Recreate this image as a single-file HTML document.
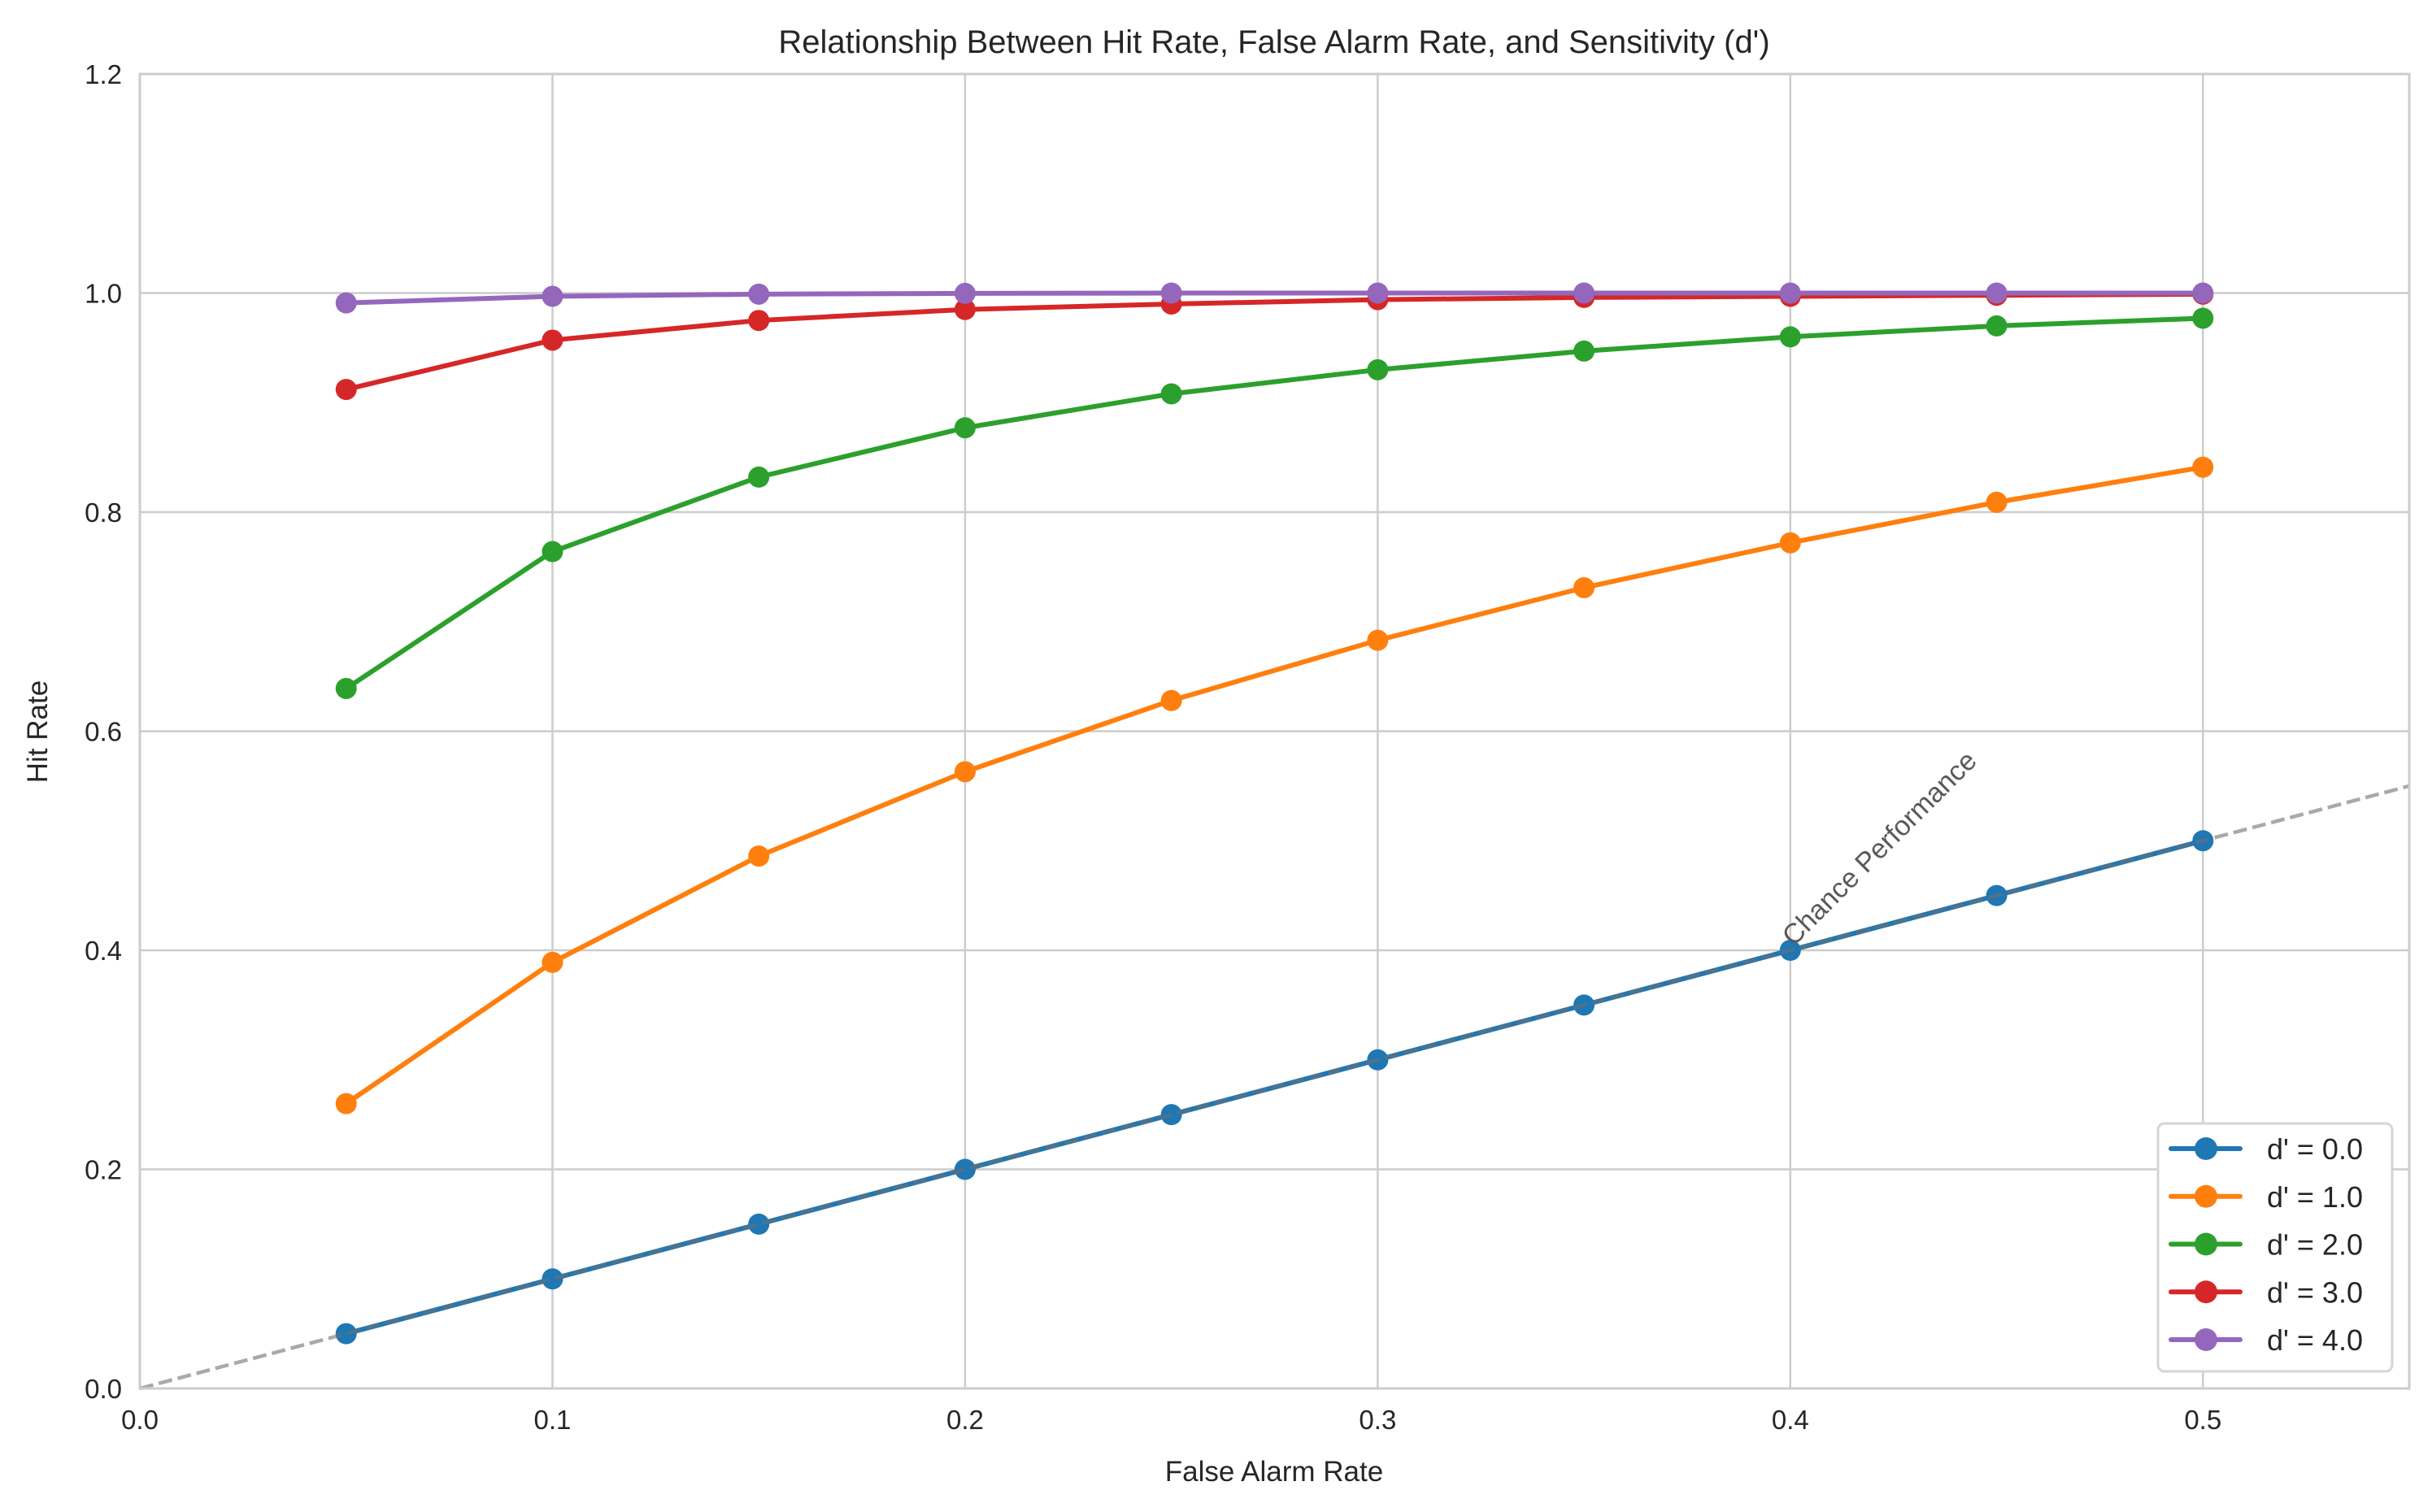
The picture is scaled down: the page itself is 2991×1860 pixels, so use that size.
<!DOCTYPE html>
<html><head><meta charset="utf-8"><style>
html,body{margin:0;padding:0;background:#fff;}
svg{display:block;font-family:"Liberation Sans","DejaVu Sans",sans-serif;}
</style></head><body>
<svg id="chart" width="2991" height="1860" viewBox="0 0 2991 1860" xmlns="http://www.w3.org/2000/svg">
<rect width="2991" height="1860" fill="#fff"/>
<g id="grid"></g>
<g id="series"></g>
<g id="axes"></g>
<text x="1567" y="65" text-anchor="middle" font-size="40" fill="#262626">Relationship Between Hit Rate, False Alarm Rate, and Sensitivity (d')</text>
<text x="1567" y="1822" text-anchor="middle" font-size="35" fill="#262626">False Alarm Rate</text>
<text x="0" y="0" transform="translate(58,900) rotate(-90)" text-anchor="middle" font-size="35" fill="#262626">Hit Rate</text>
<g id="legend"></g>
</svg>
<script>
const falseAlarmRates = [0.05,0.10,0.15,0.20,0.25,0.30,0.35,0.40,0.45,0.50];
const seriesLabels = ["d' = 0.0","d' = 1.0","d' = 2.0","d' = 3.0","d' = 4.0"];
const hitD0 = [0.05,0.10,0.15,0.20,0.25,0.30,0.35,0.40,0.45,0.50];
const hitD1 = [0.260,0.389,0.486,0.563,0.628,0.683,0.731,0.772,0.809,0.841];
const hitD2 = [0.639,0.764,0.832,0.877,0.908,0.930,0.947,0.960,0.970,0.977];
const hitD3 = [0.912,0.957,0.975,0.985,0.990,0.994,0.996,0.997,0.998,0.999];
const hitD4 = [0.991,0.997,0.999,0.9997,1.0,1.0,1.0,1.0,1.0,1.0];
const xTicks = [0.0,0.1,0.2,0.3,0.4,0.5];
const yTicks = [0.0,0.2,0.4,0.6,0.8,1.0,1.2];
const chanceLine = [0.0,0.55];

const NS="http://www.w3.org/2000/svg";
const L=172,R=2963,T=91,B=1708;
const xMax=0.55,yMax=1.2;
const xs=v=>L+v/xMax*(R-L);
const ys=v=>B-v/yMax*(B-T);
const colors=["#1f77b4","#ff7f0e","#2ca02c","#d62728","#9467bd"];
const allSeries=[hitD0,hitD1,hitD2,hitD3,hitD4];
function mk(tag,attrs,parent){const e=document.createElementNS(NS,tag);for(const k in attrs)e.setAttribute(k,attrs[k]);parent.appendChild(e);return e;}
const grid=document.getElementById('grid'),axes=document.getElementById('axes'),ser=document.getElementById('series'),leg=document.getElementById('legend');
xTicks.forEach(t=>{
  const g=mk('line',{x1:xs(t),x2:xs(t),y1:T,y2:B,stroke:'#cccccc','stroke-width':2.5},grid);
  
  
  const tx=mk('text',{x:xs(t),y:B+50,'text-anchor':'middle','font-size':33,fill:'#262626'},axes);
  tx.textContent=t.toFixed(1);
  
  
});
yTicks.forEach(t=>{
  const g=mk('line',{x1:L,x2:R,y1:ys(t),y2:ys(t),stroke:'#cccccc','stroke-width':2.5},grid);
  
  
  const tx=mk('text',{x:L-22,y:ys(t)+12,'text-anchor':'end','font-size':33,fill:'#262626'},axes);
  tx.textContent=t.toFixed(1);
  
  
});
const frame=mk('rect',{x:L,y:T,width:R-L,height:B-T,fill:'none',stroke:'#cccccc','stroke-width':3},axes);


allSeries.forEach((vals,i)=>{
  const g=mk('g',{},ser);
  
  
  const pts=vals.map((v,j)=>xs(falseAlarmRates[j])+','+ys(v)).join(' ');
  const pl=mk('polyline',{points:pts,fill:'none',stroke:colors[i],'stroke-width':6,'stroke-linejoin':'round','stroke-linecap':'round'},g);
  
  
  vals.forEach((v,j)=>{
    const c=mk('circle',{cx:xs(falseAlarmRates[j]),cy:ys(v),r:13,fill:colors[i]},g);
    
    
  });
});
const ch=mk('line',{x1:xs(chanceLine[0]),y1:ys(chanceLine[0]),x2:xs(chanceLine[1]),y2:ys(chanceLine[1]),stroke:'#707070','stroke-opacity':0.6,'stroke-width':4.5,'stroke-dasharray':'17,7'},ser);


const ct=mk('text',{x:0,y:0,transform:`translate(${xs(0.4)+4},${ys(0.4)-4}) rotate(-45)`,'font-size':34,fill:'#595959'},ser);
ct.textContent='Chance Performance';


const lb=mk('rect',{x:2654,y:1382,width:288,height:305,rx:8,fill:'#fff','fill-opacity':1,stroke:'#d5d5d5','stroke-width':3},leg);


seriesLabels.forEach((lab,i)=>{
  const y=1413+i*58.75;
  const g=mk('g',{},leg);
  
  
  mk('line',{x1:2670,x2:2755,y1:y,y2:y,stroke:colors[i],'stroke-width':6,'stroke-linecap':'round'},g);
  mk('circle',{cx:2713,cy:y,r:14,fill:colors[i]},g);
  const t=mk('text',{x:2788,y:y+13,'font-size':36,fill:'#262626'},g);
  t.textContent=lab;
});
</script>
</body></html>
